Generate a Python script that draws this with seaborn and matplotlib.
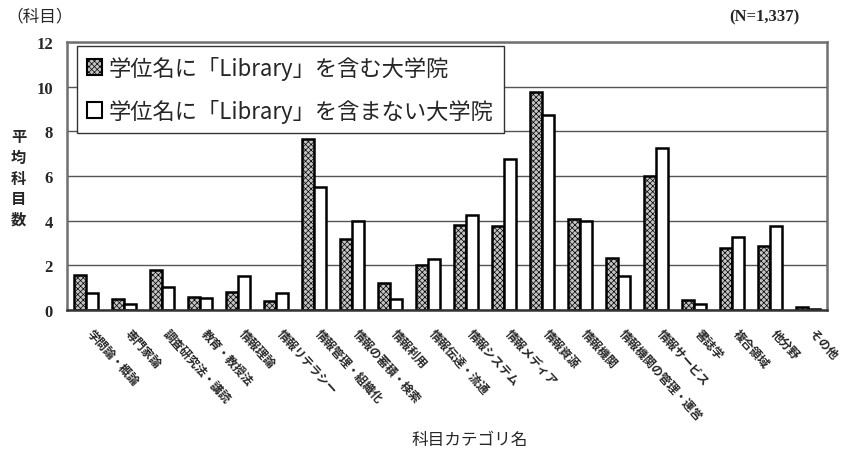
import matplotlib
matplotlib.use("Agg")
import matplotlib.pyplot as plt
import matplotlib.transforms as mtransforms
import seaborn as sns
import pandas as pd
from matplotlib.patches import Patch

# Subject categories (x axis)
categories = [
    "学問論・概論", "専門家論", "調査研究法・講読", "教育・教授法", "情報理論",
    "情報リテラシー", "情報管理・組織化", "情報の蓄積・検索", "情報利用", "情報伝達・流通",
    "情報システム", "情報メディア", "情報資源", "情報機関", "情報機関の管理・運営",
    "情報サービス", "書誌学", "複合領域", "他分野", "その他",
]
series_names = ["学位名に「Library」を含む大学院", "学位名に「Library」を含まない大学院"]
# Mean number of subjects per category
with_library = [1.55, 0.5, 1.8, 0.58, 0.82, 0.4, 7.65, 3.2, 1.2, 2.03,
                3.8, 3.78, 9.78, 4.08, 2.35, 6.02, 0.45, 2.77, 2.85, 0.12]
without_library = [0.78, 0.27, 1.03, 0.52, 1.5, 0.78, 5.52, 4.0, 0.5, 2.28,
                   4.27, 6.77, 8.75, 4.0, 1.5, 7.25, 0.27, 3.27, 3.75, 0.05]
yticks = [0, 2, 4, 6, 8, 10, 12]

df = pd.DataFrame({
    "category": categories * 2,
    "group": [series_names[0]] * len(categories) + [series_names[1]] * len(categories),
    "value": with_library + without_library,
})

sns.set_theme(style="white")
plt.rcParams["font.family"] = ["Noto Sans CJK JP", "DejaVu Sans"]
plt.rcParams["hatch.color"] = "#3a3a3a"
plt.rcParams["hatch.linewidth"] = 0.5

fig = plt.figure(figsize=(8.46, 4.52), dpi=100)
ax = fig.add_axes([0.0792, 0.312, 0.8983, 0.5928])

sns.barplot(data=df, x="category", y="value", hue="group", hue_order=series_names,
            order=categories, palette=["#c4c4c4", "white"], width=0.62, gap=0,
            edgecolor="black", linewidth=1.8, legend=False, ax=ax, errorbar=None)

for bar in ax.containers[0]:
    bar.set_hatch("xxxxxx")

ax.set_xlim(-0.5, len(categories) - 0.5)
ax.set_ylim(0, 12)
ax.set_yticks(yticks)
ax.set_yticklabels([str(v) for v in yticks], fontfamily="Liberation Serif",
                   fontweight="bold", fontsize=12)
ax.tick_params(axis="y", length=0, pad=10)
ax.tick_params(axis="x", length=0, pad=12)
ax.set_xticks(range(len(categories)))
ax.set_xticklabels(categories, rotation=-48, ha="left", va="top",
                   rotation_mode="anchor", fontsize=8.5, fontweight="bold")
shift = mtransforms.ScaledTranslation(8 / 100, 0, fig.dpi_scale_trans)
for lbl in ax.get_xticklabels():
    lbl.set_transform(lbl.get_transform() + shift)
ax.set_xlabel("")
ax.set_ylabel("")

ax.yaxis.grid(True, color="#555555", linewidth=1.0)
ax.set_axisbelow(True)
for sp in ax.spines.values():
    sp.set_visible(True)
    sp.set_color("#707070")
    sp.set_linewidth(1.8)
ax.spines["bottom"].set_color("#333333")

handles = [Patch(facecolor="#c4c4c4", edgecolor="black", hatch="xxxxxx", linewidth=1.5),
           Patch(facecolor="white", edgecolor="black", linewidth=1.5)]
leg = ax.legend(handles, series_names, loc="upper left", bbox_to_anchor=(0.013, 0.985),
                borderaxespad=0, fontsize=16, handlelength=0.7, handleheight=0.7,
                handletextpad=0.3, labelspacing=0.85, borderpad=0.45, fancybox=False,
                framealpha=1, edgecolor="#333333")
leg.get_frame().set_linewidth(1.0)

fig.text(0.022, 0.605, "平\n均\n科\n目\n数", ha="center", va="center",
         fontsize=11, fontweight="bold", linespacing=1.35)
fig.text(0.008, 0.962, "（科目）", ha="left", va="center", fontsize=12)
fig.text(0.945, 0.962, "(N=1,337)", ha="right", va="center",
         fontfamily="Liberation Serif", fontweight="bold", fontsize=12)
fig.text(0.555, 0.025, "科目カテゴリ名", ha="center", va="center", fontsize=12)

fig.savefig("out.png", dpi=100)
